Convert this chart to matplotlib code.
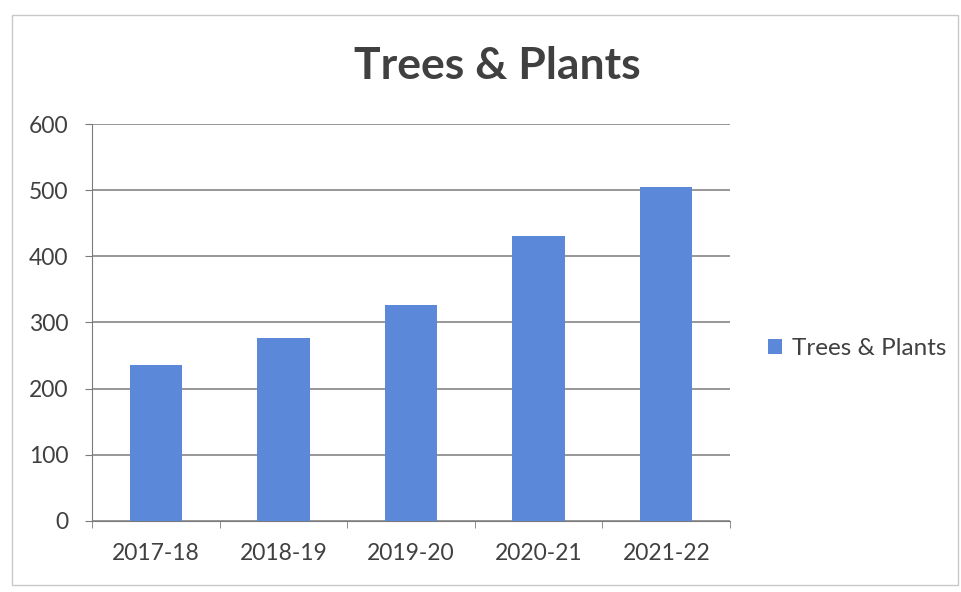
import matplotlib
matplotlib.use("Agg")
import matplotlib.pyplot as plt
from matplotlib.patches import Rectangle

categories = ["2017-18", "2018-19", "2019-20", "2020-21", "2021-22"]
values = [235, 277, 326, 431, 505]
series_name = "Trees & Plants"
title = "Trees & Plants"
yticks = [0, 100, 200, 300, 400, 500, 600]

plt.rcParams['font.family'] = ['Lato', 'DejaVu Sans']
text_color = '#404040'
grid_color = '#7a7a7a'
bar_color = '#5b88d8'

fig = plt.figure(figsize=(9.61, 5.92), dpi=100)
fig.patches.append(Rectangle((0.012, 0.012), 0.985, 0.962, transform=fig.transFigure,
                             fill=False, edgecolor='#c8c8c8', linewidth=1))
ax = fig.add_axes([0.0957, 0.12, 0.664, 0.6705])
x = list(range(len(categories)))
ax.bar(x, values, width=0.41, color=bar_color, label=series_name, zorder=3)
ax.set_xlim(-0.5, len(categories) - 0.5)
ax.set_ylim(0, 600)
ax.set_yticks(yticks)
ax.set_yticklabels([str(v) for v in yticks], fontsize=16.5, color=text_color)
ax.set_xticks(x)
ax.set_xticklabels(categories, fontsize=16.5, color=text_color)
ax.tick_params(axis='x', length=0, pad=16)
ax.tick_params(axis='y', length=5, color=grid_color, pad=12)
# category boundary ticks
ax.set_xticks([i - 0.5 for i in range(len(categories) + 1)], minor=True)
ax.tick_params(axis='x', which='minor', length=5, color=grid_color)
ax.yaxis.grid(True, color=grid_color, linewidth=1.1, zorder=0)
for s in ['top', 'right']:
    ax.spines[s].set_visible(False)
ax.spines['left'].set_color(grid_color)
ax.spines['bottom'].set_color(grid_color)
ax.set_axisbelow(True)

fig.text(0.517, 0.888, title, ha='center', va='center', fontsize=32,
         fontweight='bold', color=text_color)

leg = fig.legend(loc='center left', bbox_to_anchor=(0.776, 0.411), frameon=False,
                 fontsize=17.5, handlelength=0.6, handleheight=0.6, handletextpad=0.4,
                 labelcolor=text_color)

fig.savefig("out.png", dpi=100)
